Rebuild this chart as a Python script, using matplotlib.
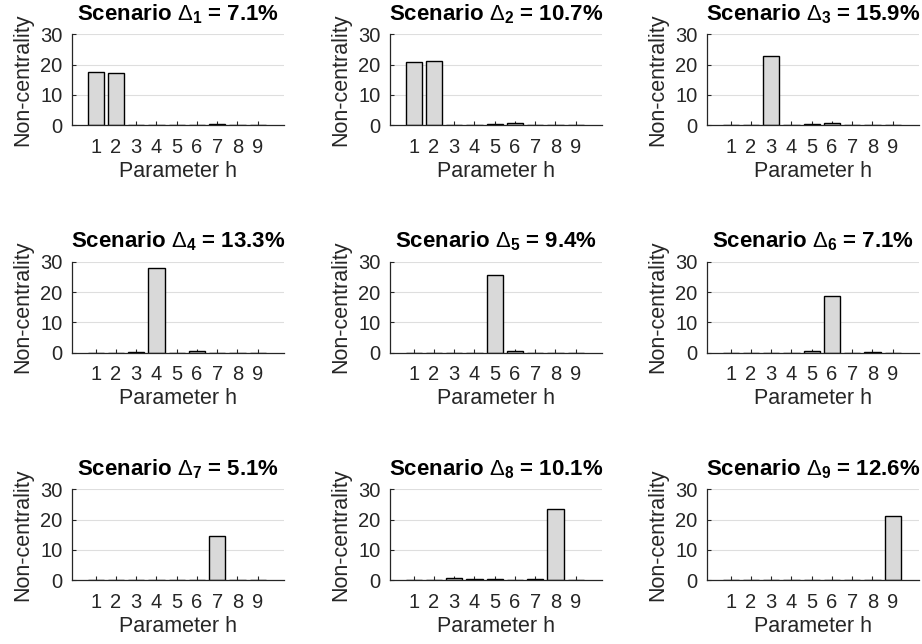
import matplotlib
matplotlib.use("Agg")
import matplotlib.pyplot as plt
import numpy as np

plt.rcParams['font.family'] = ['Liberation Sans', 'DejaVu Sans']
plt.rcParams['mathtext.fontset'] = 'custom'
plt.rcParams['mathtext.rm'] = 'Liberation Sans'
plt.rcParams['mathtext.it'] = 'Liberation Sans:italic'
plt.rcParams['mathtext.bf'] = 'Liberation Sans:bold'

params = [1, 2, 3, 4, 5, 6, 7, 8, 9]
scenario_pct = [7.1, 10.7, 15.9, 13.3, 9.4, 7.1, 5.1, 10.1, 12.6]
s1 = [17.6, 17.1, 0.05, 0.05, 0.05, 0.05, 0.3, 0.15, 0.2]
s2 = [21.0, 21.2, 0.05, 0.05, 0.3, 0.9, 0.05, 0.2, 0.1]
s3 = [0.05, 0.1, 23.0, 0.05, 0.3, 0.7, 0.05, 0.05, 0.05]
s4 = [0.05, 0.05, 0.2, 27.8, 0.05, 0.4, 0.05, 0.05, 0.05]
s5 = [0.05, 0.05, 0.05, 0.05, 25.6, 0.4, 0.05, 0.05, 0.05]
s6 = [0.05, 0.05, 0.05, 0.05, 0.4, 18.7, 0.05, 0.2, 0.05]
s7 = [0.05, 0.05, 0.15, 0.05, 0.05, 0.05, 14.6, 0.05, 0.05]
s8 = [0.05, 0.05, 0.7, 0.4, 0.3, 0.1, 0.3, 23.4, 0.05]
s9 = [0.05, 0.05, 0.2, 0.2, 0.05, 0.05, 0.05, 0.2, 21.2]
series = [s1, s2, s3, s4, s5, s6, s7, s8, s9]

W, H = 922, 644
fig = plt.figure(figsize=(W / 100, H / 100), dpi=100)

col_left = [72, 390, 707]
row_top = [34.3, 261.7, 489.3]
ax_w = 212
ax_h = 91

dark = '#262626'
for i, vals in enumerate(series):
    r, c = divmod(i, 3)
    ax = fig.add_axes([col_left[c] / W, 1 - (row_top[r] + ax_h) / H, ax_w / W, ax_h / H])
    ax.bar(params, vals, width=0.8, color='#d9d9d9', edgecolor='black', linewidth=1.0, zorder=2)
    ax.set_xlim(-0.17, 10.3)
    ax.set_ylim(0, 30)
    ax.set_xticks(params)
    ax.set_yticks([0, 10, 20, 30])
    ax.yaxis.grid(True, color='#dedede', linewidth=0.8, zorder=0)
    ax.set_axisbelow(True)
    for s in ['top', 'right']:
        ax.spines[s].set_visible(False)
    for s in ['left', 'bottom']:
        ax.spines[s].set_color(dark)
        ax.spines[s].set_linewidth(0.9)
        ax.spines[s].set_zorder(3)
    ax.tick_params(direction='in', length=3, width=0.8, color=dark, labelcolor=dark,
                   labelsize=14.5)
    ax.tick_params(axis='x', pad=9)
    ax.tick_params(axis='y', pad=7)
    ax.set_xlabel('Parameter h', fontsize=15.5, color=dark, labelpad=3)
    ax.set_ylabel('Non-centrality', fontsize=15.5, color=dark, labelpad=5)
    ax.set_title(r'Scenario $\Delta_{\mathbf{%d}}$ = %.1f%%' % (i + 1, scenario_pct[i]),
                 fontsize=16, fontweight='bold', pad=10)

fig.savefig('out.png', dpi=100)
